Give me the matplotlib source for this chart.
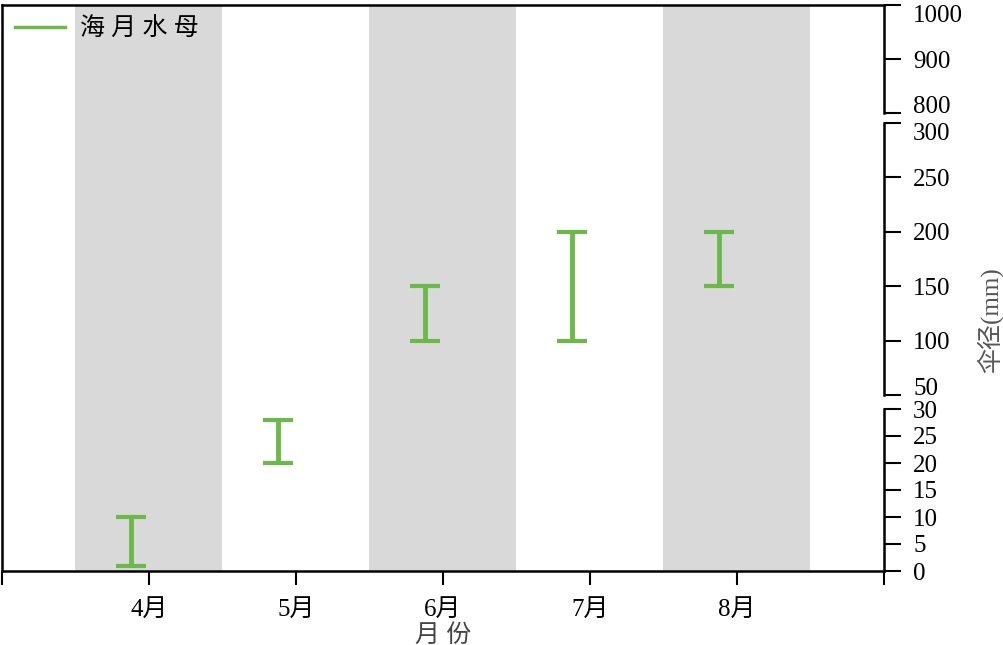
import matplotlib
matplotlib.use("Agg")
from matplotlib import pyplot as plt

months = ["4月", "5月", "6月", "7月", "8月"]
low = [1, 20, 100, 100, 150]
high = [10, 28, 150, 200, 200]
series_name = "海月水母"

green = "#6cb94a"
grey = "#d9d9d9"
fam = ["Liberation Serif", "Noto Sans CJK SC"]
plt.rcParams["font.family"] = fam
fs = 18

W, H = 1004, 645
fig = plt.figure(figsize=(W / 100, H / 100), dpi=100)

def box(top, bottom, left=2, right=884):
    return [left / W, (H - bottom) / H, (right - left) / W, (bottom - top) / H]

# background axes: shading, x axis, left/top frame
bg = fig.add_axes(box(5, 571))
bg.set_xlim(-1, 5)
bg.set_ylim(0, 1)
for i in range(len(months)):
    if i % 2 == 0:
        bg.axvspan(i - 0.5, i + 0.5, color=grey, lw=0, zorder=0)
bg.set_yticks([])
bg.set_xticks(range(-1, 6))
bg.set_xticklabels([""] + months + [""], fontsize=fs)
bg.tick_params(axis="x", direction="out", length=10, width=1.5, pad=10)
bg.spines["right"].set_visible(False)
for s in ["left", "top", "bottom"]:
    bg.spines[s].set_linewidth(1.8)
bg.set_xlabel("月 份", fontsize=fs, color="#444444", labelpad=2)
bg.plot([], [], color=green, lw=2.5, label=series_name.replace("", " ").strip())
bg.legend(loc="upper left", frameon=False, fontsize=fs, handlelength=2.0,
          handletextpad=0.6, borderaxespad=0.1, bbox_to_anchor=(0.0, 1.0))

# three broken y segments on the right
segments = [
    (box(5, 113), (800, 1000), [800, 900, 1000]),
    (box(123, 395), (50, 300), [50, 100, 150, 200, 250, 300]),
    (box(409, 571), (0, 30), [0, 5, 10, 15, 20, 25, 30]),
]
for k, (pos, lim, ticks) in enumerate(segments):
    ax = fig.add_axes(pos)
    ax.patch.set_alpha(0)
    ax.set_xlim(-1, 5)
    ax.set_ylim(*lim)
    for s in ["left", "top", "bottom"]:
        ax.spines[s].set_visible(False)
    ax.spines["right"].set_linewidth(1.8)
    ax.yaxis.tick_right()
    ax.set_yticks(ticks)
    ax.set_xticks([])
    ax.tick_params(axis="y", direction="out", length=12, width=1.5, pad=9,
                   labelsize=fs)
    labels = ax.get_yticklabels()
    # keep labels at the breaks apart
    if k < 2:
        labels[0].set_va("baseline")
    if k < 2:
        labels[-1].set_va("top")
    for i in range(len(months)):
        if lim[0] <= low[i] and high[i] <= lim[1]:
            mid = (low[i] + high[i]) / 2
            ax.errorbar(i - 0.12, mid, yerr=(high[i] - low[i]) / 2, fmt="none",
                        ecolor=green, elinewidth=3.5, capsize=11, capthick=3)

fig.text(990 / W, (H - 320) / H, "伞径(mm)", rotation=90, fontsize=fs,
         color="#555555", ha="center", va="center")

plt.savefig("out.png", dpi=100)
